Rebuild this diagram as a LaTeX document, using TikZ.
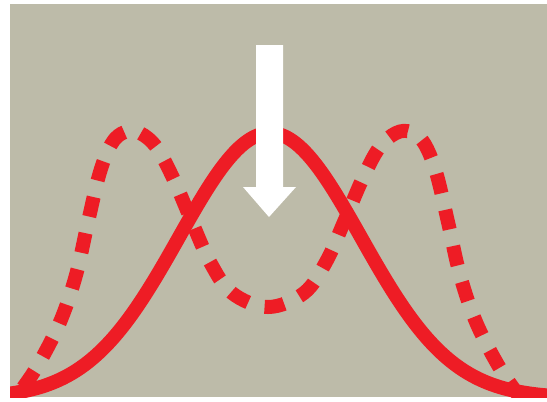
\documentclass[tikz,border=0pt]{standalone}
\definecolor{bgc}{HTML}{BDBBA9}
\definecolor{curvered}{HTML}{EE1C25}
\tikzset{
  curve/.style={draw=curvered, line width=14pt},
  dashcurve/.style={curve, dash pattern=on 20pt off 17pt},
  bigarrow/.style={fill=white, draw=none}
}
\begin{document}
\begin{tikzpicture}[x=1pt,y=-1pt]
\useasboundingbox (0,0) rectangle (547,402);
\fill[white] (0,0) rectangle (547,402);
\fill[bgc] (10,4) rectangle (547,397);
\begin{scope}
\clip (10,4) rectangle (547,397);
% solid Gaussian
\draw[curve, domain=0:547, samples=120, smooth] plot (\x, {398-265*exp(-0.5*((\x-270)/91)^2)});
% dashed double hump
\draw[dashcurve] plot[smooth, tension=0.6] coordinates {
(2,418) (20,392) (38,365) (60,322) (76,275) (88,222) (100,172) (112,143) (125,132)
(140,133) (157,148) (174,180) (192,222) (210,262) (232,293) (268,307)
(304,293) (326,262) (344,222) (362,180) (379,148) (396,133) (411,132)
(424,143) (436,172) (448,222) (460,275) (476,322) (498,365) (516,392) (534,418)};
\end{scope}
% arrow
\fill[bigarrow] (256,45) -- (283,45) -- (283,187) -- (296,187) -- (269,217) -- (243,187) -- (256,187) -- cycle;
\end{tikzpicture}
\end{document}
